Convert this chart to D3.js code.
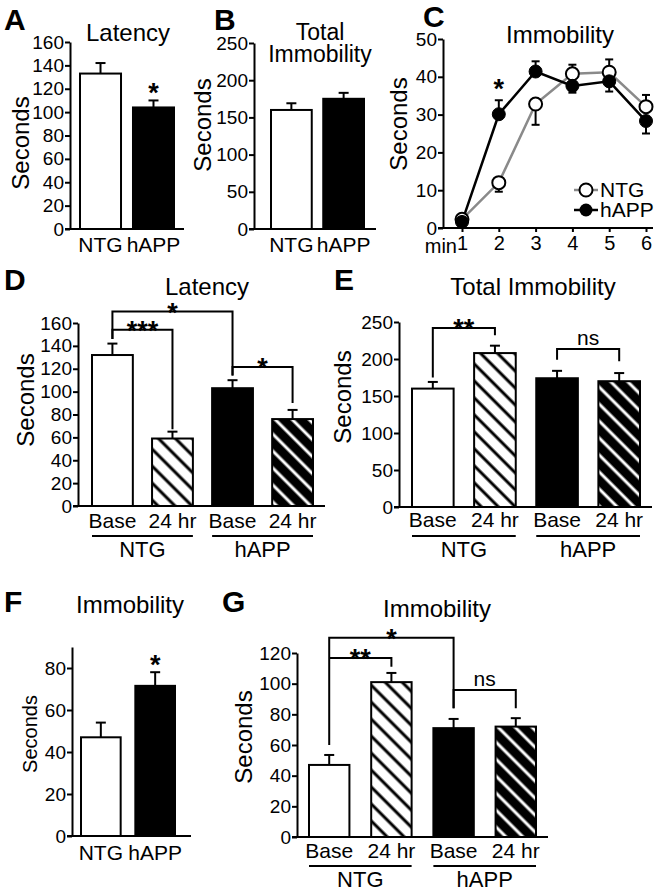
<!DOCTYPE html>
<html><head><meta charset="utf-8">
<script src="https://cdn.jsdelivr.net/npm/d3@7/dist/d3.min.js"></script>
<style>body{margin:0;background:#fff} svg text{font-family:"Liberation Sans",Arial,Helvetica,sans-serif;fill:#000}</style>
</head><body><svg id="fig" width="661" height="894"></svg>
<script>
// ---------- DATA ----------
const groups2 = ["NTG", "hAPP"];
const latencyA = [133, 104];
const latencyA_sem = [9, 6];
const totalImmB = [160, 175];
const totalImmB_sem = [9, 8];
const minutes = [1, 2, 3, 4, 5, 6];
const immC_NTG = [2.3, 12, 32.8, 40.8, 41.2, 32.1];
const immC_NTG_sem = [1, 2.4, 5.5, 2.4, 3.4, 3.1];
const immC_hAPP = [1.6, 30.1, 41.4, 37.6, 38.8, 28.3];
const immC_hAPP_sem = [1, 3.7, 2.7, 1.8, 2.7, 3.3];
const conds4 = ["NTG Base", "NTG 24 hr", "hAPP Base", "hAPP 24 hr"];
const condLabels = ["Base", "24 hr", "Base", "24 hr"];
const latencyD = [132, 59, 103, 76];
const latencyD_sem = [10, 6, 7, 8];
const totalImmE = [160, 208, 174, 170];
const totalImmE_sem = [9, 10, 10, 11];
const immF = [47, 71.5];
const immF_sem = [7, 6.5];
const immG = [47, 101, 71, 72];
const immG_sem = [6.5, 6, 6, 5.5];
const ticks160 = [0, 20, 40, 60, 80, 100, 120, 140, 160];
const ticks250 = [0, 50, 100, 150, 200, 250];
const ticks50 = [0, 10, 20, 30, 40, 50];
const ticks80 = [0, 20, 40, 60, 80];
const ticks120 = [0, 20, 40, 60, 80, 100, 120];
const fills2 = ["white", "black"];
const fills4 = ["white", "hatchW", "black", "hatchB"];
// significance brackets: indices of bars, bracket level, leg end values, label
const bracketsD = [
  {a: 0, b: 2, level: 170, endA: 146, endB: 114, label: "*"},
  {a: 0, b: 1, level: 154, endA: 146, endB: 67, label: "***"},
  {a: 2, b: 3, level: 121.5, endA: 114, endB: 90, label: "*"}
];
const bracketsE = [
  {a: 0, b: 1, level: 242, endA: 175, endB: 232, label: "**"},
  {a: 2, b: 3, level: 213.5, endA: 199, endB: 197, label: "ns"}
];
const bracketsG = [
  {a: 0, b: 2, level: 130, endA: 60, endB: 84, label: "*"},
  {a: 0, b: 1, level: 116.7, endA: 116.7, endB: 111, label: "**"},
  {a: 2, b: 3, level: 95.9, endA: 84, endB: 84, label: "ns"}
];

// ---------- DRAWING ----------
const FONT = '"Liberation Sans",Arial,Helvetica,sans-serif';
const svg = d3.select("#fig");
const defs = svg.append("defs");
function hatch(id, bg, fg) {
  const p = defs.append("pattern").attr("id", id).attr("patternUnits", "userSpaceOnUse")
    .attr("width", 12).attr("height", 12).attr("patternTransform", "rotate(45)");
  p.append("rect").attr("width", 12).attr("height", 12).attr("fill", bg);
  p.append("rect").attr("x", 0).attr("y", 4.5).attr("width", 12).attr("height", 3).attr("fill", fg);
}
hatch("hatchW", "white", "black");
hatch("hatchB", "black", "white");
function fillOf(f) { return f === "hatchW" || f === "hatchB" ? `url(#${f})` : f; }

function txt(x, y, s, size, anchor = "middle", weight = "normal", rot = 0) {
  const t = svg.append("text").attr("x", x).attr("y", y).attr("text-anchor", anchor)
    .attr("font-size", size).attr("font-weight", weight).text(s);
  if (rot) t.attr("transform", `rotate(${rot},${x},${y})`);
  return t;
}
function star(x, y, s) { return txt(x, y, s, 27, "middle", "bold"); }
function ylabel(cx, cy, size = 24) {
  txt(cx + size * 0.36, cy, "Seconds", size, "middle", "normal", -90);
}
function yAxis(g, y, ticks, axisX) {
  const ax = g.append("g").attr("transform", `translate(${axisX},0)`)
    .call(d3.axisLeft(y).tickValues(ticks).tickSize(5).tickSizeOuter(0).tickPadding(1));
  ax.select(".domain").attr("stroke-width", 2);
  ax.selectAll(".tick line").attr("stroke-width", 2);
  ax.selectAll(".tick text").attr("font-size", 19).attr("font-family", FONT).attr("fill", "#000");
  return ax;
}

function barPanel(cfg) {
  const g = svg.append("g");
  const x = d3.scaleBand().domain(cfg.cats).range(cfg.band).paddingInner(cfg.pad).paddingOuter(0);
  const y = d3.scaleLinear().domain([0, cfg.axisMax]).range([cfg.y0, cfg.yTop]);
  yAxis(g, y, cfg.ticks, cfg.axisX);
  g.append("line").attr("x1", cfg.axisX - 5).attr("x2", cfg.band[1] + cfg.extra)
    .attr("y1", y(0)).attr("y2", y(0)).attr("stroke", "#000").attr("stroke-width", 2);
  cfg.cats.forEach((c, i) => {
    const v = cfg.vals[i], e = cfg.sems[i], cx = x(c) + x.bandwidth() / 2;
    g.append("line").attr("x1", cx).attr("x2", cx).attr("y1", y(v)).attr("y2", y(v + e))
      .attr("stroke", "#000").attr("stroke-width", 2);
    g.append("line").attr("x1", cx - 5).attr("x2", cx + 5).attr("y1", y(v + e)).attr("y2", y(v + e))
      .attr("stroke", "#000").attr("stroke-width", 2);
    g.append("rect").attr("x", x(c)).attr("y", y(v)).attr("width", x.bandwidth())
      .attr("height", y(0) - y(v)).attr("fill", fillOf(cfg.fills[i]))
      .attr("stroke", "#000").attr("stroke-width", 2);
  });
  return {x, y, g};
}
function brackets(p, list, cats) {
  const cx = i => p.x(cats[i]) + p.x.bandwidth() / 2;
  list.forEach(b => {
    const xa = cx(b.a), xb = cx(b.b), yl = p.y(b.level);
    p.g.append("path").attr("d", `M${xa},${p.y(b.endA)}V${yl}H${xb}V${p.y(b.endB)}`)
      .attr("fill", "none").attr("stroke", "#000").attr("stroke-width", 2);
    const mx = (xa + xb) / 2;
    if (b.label === "ns") txt(mx, yl - 4, b.label, 21);
    else star(mx, yl + 10, b.label);
  });
}
function groupLabels(p, cats, labels, yBase, yLine, yGroup) {
  cats.forEach((c, i) => txt(p.x(c) + p.x.bandwidth() / 2, yBase, labels[i], 21));
  [[0, 1, "NTG"], [2, 3, "hAPP"]].forEach(([a, b, name]) => {
    const x1 = p.x(cats[a]), x2 = p.x(cats[b]) + p.x.bandwidth();
    p.g.append("line").attr("x1", x1).attr("x2", x2).attr("y1", yLine).attr("y2", yLine)
      .attr("stroke", "#000").attr("stroke-width", 2);
    txt((x1 + x2) / 2, yGroup, name, 22);
  });
}

// Panel letters
[["A", 4, 30], ["B", 214, 30], ["C", 423, 27], ["D", 4, 290], ["E", 334, 290], ["F", 4, 612], ["G", 222, 612]]
  .forEach(([s, x, y]) => txt(x, y, s, 30, "start", "bold"));

// ---- A ----
const pA = barPanel({cats: groups2, vals: latencyA, sems: latencyA_sem, fills: fills2,
  axisX: 70, band: [80, 174], pad: 0.226, extra: 10, y0: 229, yTop: 42, axisMax: 160, ticks: ticks160});
groups2.forEach(c => txt(pA.x(c) + pA.x.bandwidth() / 2, 252, c, 21));
star(pA.x("hAPP") + pA.x.bandwidth() / 2, pA.y(latencyA[1] + latencyA_sem[1]) + 2, "*");
txt(128, 41, "Latency", 24);
ylabel(20, 143);

// ---- B ----
const pB = barPanel({cats: groups2, vals: totalImmB, sems: totalImmB_sem, fills: fills2,
  axisX: 254, band: [271, 364], pad: 0.22, extra: 12, y0: 229, yTop: 43, axisMax: 250, ticks: ticks250});
groups2.forEach(c => txt(pB.x(c) + pB.x.bandwidth() / 2, 252, c, 21));
txt(320, 40, "Total", 23);
txt(320, 62, "Immobility", 23);
ylabel(202, 125);

// ---- C ----
{
  const g = svg.append("g");
  const x = d3.scaleLinear().domain([1, 6]).range([462, 646]);
  const y = d3.scaleLinear().domain([0, 50]).range([228, 39]);
  yAxis(g, y, ticks50, 443);
  g.append("line").attr("x1", 438).attr("x2", 653).attr("y1", y(0)).attr("y2", y(0))
    .attr("stroke", "#000").attr("stroke-width", 2);
  const xa = g.append("g").attr("transform", `translate(0,${y(0)})`)
    .call(d3.axisBottom(x).tickValues(minutes).tickSize(4).tickPadding(4).tickFormat(d3.format("d")));
  xa.select(".domain").remove();
  xa.selectAll(".tick line").attr("stroke-width", 2);
  xa.selectAll(".tick text").attr("font-size", 20).attr("fill", "#000").attr("font-family", FONT);
  txt(457, 253, "min", 20, "end");
  const line = d3.line().x((d, i) => x(minutes[i])).y(d => y(d));
  g.append("path").attr("d", line(immC_NTG)).attr("fill", "none").attr("stroke", "#8a8a8a").attr("stroke-width", 2.5);
  g.append("path").attr("d", line(immC_hAPP)).attr("fill", "none").attr("stroke", "#000").attr("stroke-width", 2.5);
  [[immC_NTG, immC_NTG_sem, immC_hAPP], [immC_hAPP, immC_hAPP_sem, immC_NTG]].forEach(([vals, sems, other], k) => {
    vals.forEach((v, i) => {
      const cx = x(minutes[i]);
      const up = k === 0 ? v >= other[i] : v > other[i];
      const ye = up ? v + sems[i] : v - sems[i];
      g.append("line").attr("x1", cx).attr("x2", cx).attr("y1", y(v)).attr("y2", y(ye)).attr("stroke", "#000").attr("stroke-width", 2);
      g.append("line").attr("x1", cx - 4).attr("x2", cx + 4).attr("y1", y(ye)).attr("y2", y(ye)).attr("stroke", "#000").attr("stroke-width", 2);
    });
  });
  immC_NTG.forEach((v, i) => g.append("circle").attr("cx", x(minutes[i])).attr("cy", y(v)).attr("r", 6.5)
    .attr("fill", "white").attr("stroke", "#000").attr("stroke-width", 2));
  immC_hAPP.forEach((v, i) => g.append("circle").attr("cx", x(minutes[i])).attr("cy", y(v)).attr("r", 6.5)
    .attr("fill", "#000").attr("stroke", "#000").attr("stroke-width", 1));
  star(x(2), y(immC_hAPP[1] + immC_hAPP_sem[1]) - 2, "*");
  txt(560, 43, "Immobility", 24);
  ylabel(398, 124);
  // legend
  g.append("line").attr("x1", 574).attr("x2", 598).attr("y1", 190).attr("y2", 190).attr("stroke", "#8a8a8a").attr("stroke-width", 2.5);
  g.append("circle").attr("cx", 586).attr("cy", 190).attr("r", 6.5).attr("fill", "white").attr("stroke", "#000").attr("stroke-width", 2);
  g.append("line").attr("x1", 574).attr("x2", 598).attr("y1", 210).attr("y2", 210).attr("stroke", "#000").attr("stroke-width", 2.5);
  g.append("circle").attr("cx", 586).attr("cy", 210).attr("r", 6.5).attr("fill", "#000");
  txt(600, 197, "NTG", 21, "start");
  txt(600, 217, "hAPP", 21, "start");
}

// ---- D ----
const pD = barPanel({cats: conds4, vals: latencyD, sems: latencyD_sem, fills: fills4,
  axisX: 78, band: [92, 313], pad: 0.32, extra: 12, y0: 506, yTop: 323, axisMax: 160, ticks: ticks160});
brackets(pD, bracketsD, conds4);
groupLabels(pD, conds4, condLabels, 528, 536, 557);
txt(207, 295, "Latency", 24);
ylabel(25, 400);

// ---- E ----
const pE = barPanel({cats: conds4, vals: totalImmE, sems: totalImmE_sem, fills: fills4,
  axisX: 399, band: [412, 640], pad: 0.33, extra: 12, y0: 507, yTop: 322, axisMax: 250, ticks: ticks250});
brackets(pE, bracketsE, conds4);
groupLabels(pE, conds4, condLabels, 527, 536, 557);
txt(533, 295, "Total Immobility", 24);
ylabel(342, 397);

// ---- F ----
const pF = barPanel({cats: groups2, vals: immF, sems: immF_sem, fills: fills2,
  axisX: 72, band: [81, 175], pad: 0.27, extra: 16, y0: 836, yTop: 647, axisMax: 90, ticks: ticks80});
groups2.forEach(c => txt(pF.x(c) + pF.x.bandwidth() / 2, 860, c, 21));
star(pF.x("hAPP") + pF.x.bandwidth() / 2, pF.y(immF[1] + immF_sem[1]) + 2, "*");
txt(130, 613, "Immobility", 24);
ylabel(30, 734, 20);

// ---- G ----
const pG = barPanel({cats: conds4, vals: immG, sems: immG_sem, fills: fills4,
  axisX: 297, band: [309, 536], pad: 0.35, extra: 12, y0: 837, yTop: 653, axisMax: 120, ticks: ticks120});
brackets(pG, bracketsG, conds4);
groupLabels(pG, conds4, condLabels, 858, 866, 887);
txt(437, 617, "Immobility", 24);
ylabel(243, 737);
</script></body></html>
